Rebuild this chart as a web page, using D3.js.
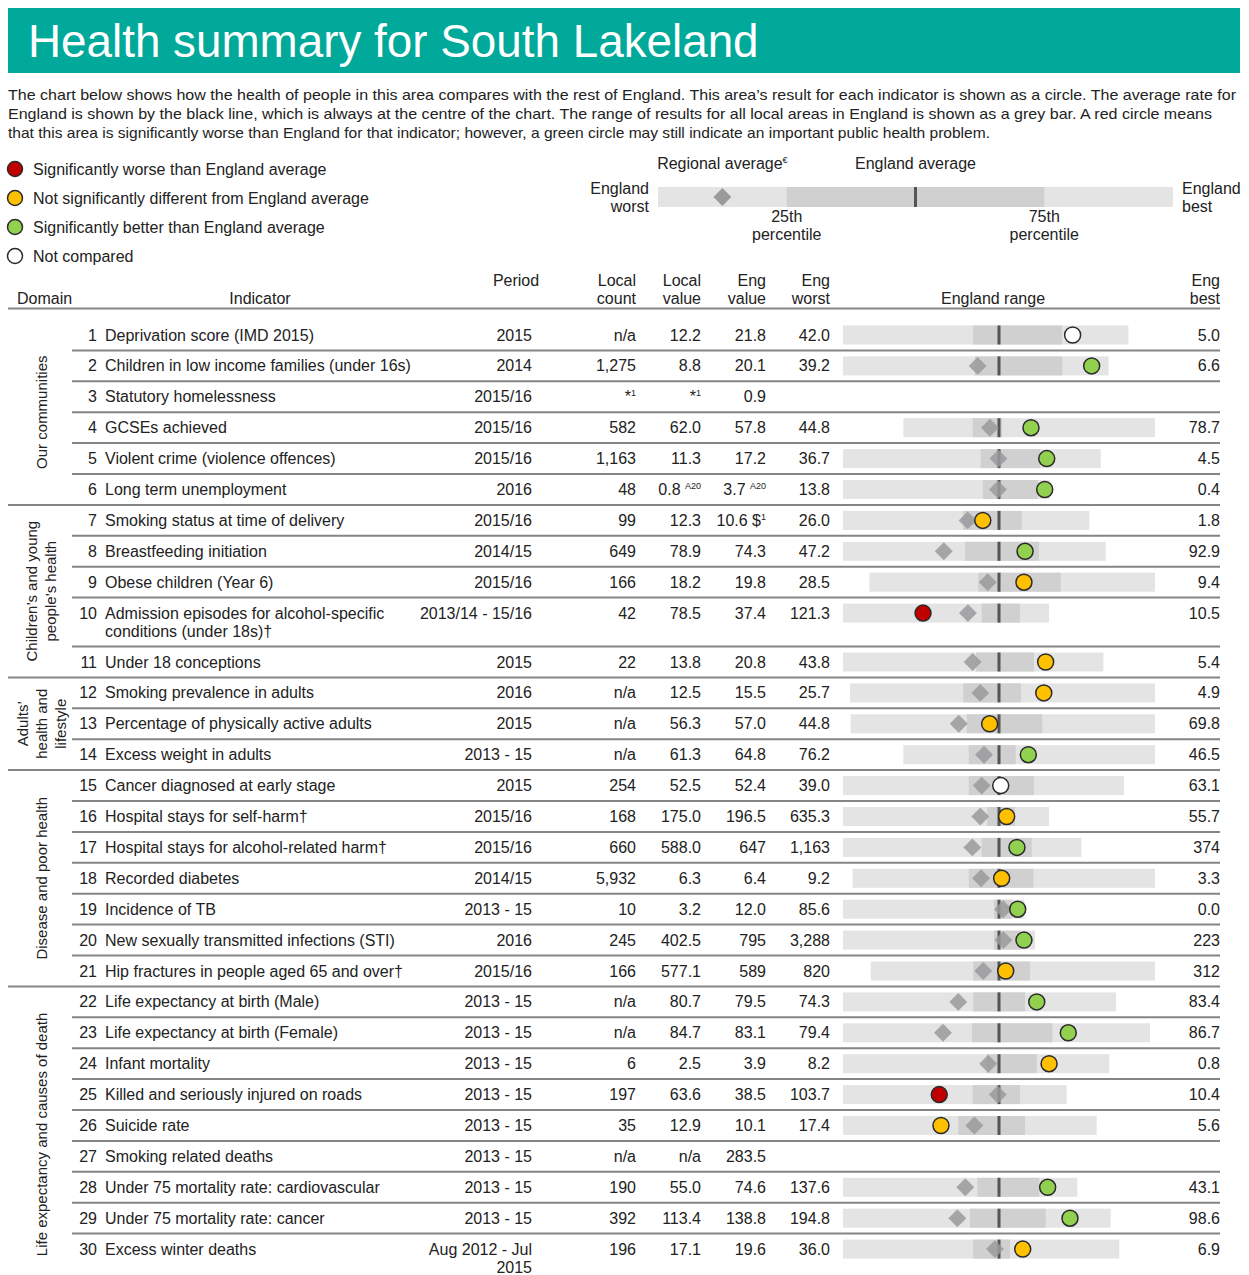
<!DOCTYPE html>
<html>
<head>
<meta charset="utf-8">
<script src="https://cdn.jsdelivr.net/npm/d3@7"></script>
<style>
  body { margin: 0; background: #fff; }
  svg { display: block; }
</style>
</head>
<body>
<svg id="chart" width="1249" height="1275"></svg>
<script>
// ─── Data ────────────────────────────────────────────────────────────────────
const title = 'Health summary for South Lakeland';
const intro = [
  'The chart below shows how the health of people in this area compares with the rest of England. This area\u2019s result for each indicator is shown as a circle. The average rate for',
  'England is shown by the black line, which is always at the centre of the chart. The range of results for all local areas in England is shown as a grey bar. A red circle means',
  'that this area is significantly worse than England for that indicator; however, a green circle may still indicate an important public health problem.'
];
const legendLabels = [
  ['r', 'Significantly worse than England average'],
  ['y', 'Not significantly different from England average'],
  ['g', 'Significantly better than England average'],
  ['w', 'Not compared']
];

const domains = [
  ['Our communities'],
  ['Children\u2019s and young', 'people\u2019s health'],
  ['Adults\u2019', 'health and', 'lifestyle'],
  ['Disease and poor health'],
  ['Life expectancy and causes of death']
];
const domainSizes = [6, 5, 3, 7, 9];

const indicators = [
  ['Deprivation score (IMD 2015)'],
  ['Children in low income families (under 16s)'],
  ['Statutory homelessness'],
  ['GCSEs achieved'],
  ['Violent crime (violence offences)'],
  ['Long term unemployment'],
  ['Smoking status at time of delivery'],
  ['Breastfeeding initiation'],
  ['Obese children (Year 6)'],
  ['Admission episodes for alcohol-specific', 'conditions (under 18s)\u2020'],
  ['Under 18 conceptions'],
  ['Smoking prevalence in adults'],
  ['Percentage of physically active adults'],
  ['Excess weight in adults'],
  ['Cancer diagnosed at early stage'],
  ['Hospital stays for self-harm\u2020'],
  ['Hospital stays for alcohol-related harm\u2020'],
  ['Recorded diabetes'],
  ['Incidence of TB'],
  ['New sexually transmitted infections (STI)'],
  ['Hip fractures in people aged 65 and over\u2020'],
  ['Life expectancy at birth (Male)'],
  ['Life expectancy at birth (Female)'],
  ['Infant mortality'],
  ['Killed and seriously injured on roads'],
  ['Suicide rate'],
  ['Smoking related deaths'],
  ['Under 75 mortality rate: cardiovascular'],
  ['Under 75 mortality rate: cancer'],
  ['Excess winter deaths']
];
const periods = [
  ['2015'], ['2014'], ['2015/16'], ['2015/16'], ['2015/16'], ['2016'],
  ['2015/16'], ['2014/15'], ['2015/16'], ['2013/14 - 15/16'], ['2015'],
  ['2016'], ['2015'], ['2013 - 15'],
  ['2015'], ['2015/16'], ['2015/16'], ['2014/15'], ['2013 - 15'], ['2016'], ['2015/16'],
  ['2013 - 15'], ['2013 - 15'], ['2013 - 15'], ['2013 - 15'], ['2013 - 15'], ['2013 - 15'],
  ['2013 - 15'], ['2013 - 15'], ['Aug 2012 - Jul', '2015']
];
// "^" marks the start of a superscript note
const localCounts = ['n/a', '1,275', '*^1', '582', '1,163', '48', '99', '649', '166', '42', '22',
  'n/a', 'n/a', 'n/a', '254', '168', '660', '5,932', '10', '245', '166',
  'n/a', 'n/a', '6', '197', '35', 'n/a', '190', '392', '196'];
const localValues = ['12.2', '8.8', '*^1', '62.0', '11.3', '0.8 ^A20', '12.3', '78.9', '18.2', '78.5', '13.8',
  '12.5', '56.3', '61.3', '52.5', '175.0', '588.0', '6.3', '3.2', '402.5', '577.1',
  '80.7', '84.7', '2.5', '63.6', '12.9', 'n/a', '55.0', '113.4', '17.1'];
const engValues = ['21.8', '20.1', '0.9', '57.8', '17.2', '3.7 ^A20', '10.6 $^1', '74.3', '19.8', '37.4', '20.8',
  '15.5', '57.0', '64.8', '52.4', '196.5', '647', '6.4', '12.0', '795', '589',
  '79.5', '83.1', '3.9', '38.5', '10.1', '283.5', '74.6', '138.8', '19.6'];
const engWorst = ['42.0', '39.2', '', '44.8', '36.7', '13.8', '26.0', '47.2', '28.5', '121.3', '43.8',
  '25.7', '44.8', '76.2', '39.0', '635.3', '1,163', '9.2', '85.6', '3,288', '820',
  '74.3', '79.4', '8.2', '103.7', '17.4', '', '137.6', '194.8', '36.0'];
const engBest = ['5.0', '6.6', '', '78.7', '4.5', '0.4', '1.8', '92.9', '9.4', '10.5', '5.4',
  '4.9', '69.8', '46.5', '63.1', '55.7', '374', '3.3', '0.0', '223', '312',
  '83.4', '86.7', '0.8', '10.4', '5.6', '', '43.1', '98.6', '6.9'];
// r worse, y not different, g better, w not compared, null none
const status = ['w', 'g', null, 'g', 'g', 'g', 'y', 'g', 'y', 'r', 'y',
  'y', 'y', 'g', 'w', 'y', 'g', 'y', 'g', 'g', 'y',
  'g', 'g', 'y', 'r', 'y', null, 'g', 'g', 'y'];

// Spine positions, England average = 0, widest half = ±100
const spineWorst = [-100, -100, null, -61.3, -100, -100, -100, -100, -83.1, -100, -100,
  -95.5, -95.1, -61.3, -100, -100, -100, -93.8, -100, -100, -82.2,
  -100, -100, -100, -100, -100, null, -100, -100, -100];
const spineQ25 = [-16.7, -15.4, null, -16.9, -11.7, -10.3, -23.1, -21.8, -13.3, -11.1, -14.7,
  -22.9, -20.7, -19.4, -19.4, -7.7, -11.1, -19.4, -3.2, -3.2, -16.5,
  -16.5, -17.3, -7.9, -16.9, -26.1, null, -13.9, -18.6, -16.7];
const spineQ75 = [40.4, 40.6, null, 1.9, 26.3, 25.0, 14.6, 25.6, 39.6, 13.5, 22.4,
  14.1, 27.8, 10.7, 22.4, 10.3, 21.0, 22.0, 8.3, 13.5, 19.9,
  16.7, 34.2, 24.2, 13.5, 16.7, null, 25.8, 29.9, 7.1];
const spineBest = [82.9, 70.3, null, 100, 65.2, 32.7, 57.9, 68.4, 100, 32.1, 66.9,
  100, 100, 100, 80.1, 32.1, 52.8, 100, 16.3, 23.1, 100,
  75.0, 96.8, 70.7, 43.4, 62.6, null, 50.2, 71.6, 77.1];
const spineRegion = [null, -13.7, null, -5.8, -0.4, -0.6, -20.1, -35.4, -7.2, -19.9, -16.9,
  -12.0, -25.8, -9.6, -11.1, -12.0, -17.1, -11.5, 2.6, 2.8, -10.1,
  -26.1, -35.9, -6.9, -0.8, -15.8, null, -21.6, -26.7, -2.6];
const spineLocal = [47.2, 59.4, null, 20.5, 30.6, 29.3, -10.4, 16.7, 16.0, -48.7, 29.9,
  28.7, -6.0, 18.8, 1.1, 4.9, 11.5, 1.7, 12.0, 16.0, 4.3,
  24.2, 44.4, 32.1, -38.3, -37.2, null, 31.2, 45.5, 15.2];

// Key diagram, same units
const keyWorst = -100, keyQ25 = -50, keyQ75 = 50, keyBest = 100, keyRegion = -75;

// ─── Style ───────────────────────────────────────────────────────────────────
const C = {
  teal: '#00a99a',
  text: '#222222',
  rule: '#858585',
  light: '#e4e4e4',
  dark: '#d0d0d0',
  avg: '#555555',
  diamond: '#9a9a9c',
  ring: '#2a2a2a',
  font: '"Liberation Sans", Arial, Helvetica, sans-serif'
};
const FILL = { r: '#c00000', y: '#ffc000', g: '#92d050', w: '#ffffff' };
const FS = 16;

const svg = d3.select('#chart');
const txt = (sel, x, y, s, anchor) => sel.append('text')
  .attr('x', x).attr('y', y).attr('font-family', C.font).attr('font-size', FS)
  .attr('fill', C.text).attr('text-anchor', anchor || 'start').text(s);

// rich text with a superscript after "^"
function richText(sel, x, y, s, anchor) {
  const t = sel.append('text').attr('x', x).attr('y', y)
    .attr('font-family', C.font).attr('font-size', FS).attr('fill', C.text)
    .attr('text-anchor', anchor || 'end');
  const parts = String(s).split('^');
  t.append('tspan').text(parts[0]);
  if (parts.length > 1) t.append('tspan').attr('font-size', 9).attr('dy', -6).text(parts[1]);
  return t;
}

// ─── Title band ──────────────────────────────────────────────────────────────
svg.append('rect').attr('x', 8).attr('y', 8).attr('width', 1232).attr('height', 65).attr('fill', C.teal);
svg.append('text').attr('x', 28).attr('y', 57).attr('fill', '#fff')
  .attr('font-family', C.font).attr('font-size', 45.8).text(title);

const introEnds = [1236, 1212, 990];
intro.forEach((line, i) => {
  txt(svg, 8, 100 + i * 19, line).attr('font-size', 15)
    .attr('textLength', introEnds[i] - 8).attr('lengthAdjust', 'spacingAndGlyphs');
});

// ─── Legend ──────────────────────────────────────────────────────────────────
legendLabels.forEach(([k, label], i) => {
  const cy = 169 + i * 29;
  svg.append('circle').attr('cx', 15).attr('cy', cy).attr('r', 7.5)
    .attr('fill', FILL[k]).attr('stroke', C.ring).attr('stroke-width', 1.5);
  txt(svg, 33, cy + 5.5, label);
});

// ─── Key diagram ─────────────────────────────────────────────────────────────
const kx = d3.scaleLinear().domain([-100, 100]).range([658, 1173]);
const keyY = 197;
const key = svg.append('g');
key.append('rect').attr('x', kx(keyWorst)).attr('y', keyY - 10)
  .attr('width', kx(keyBest) - kx(keyWorst)).attr('height', 20).attr('fill', C.light);
key.append('rect').attr('x', kx(keyQ25)).attr('y', keyY - 10)
  .attr('width', kx(keyQ75) - kx(keyQ25)).attr('height', 20).attr('fill', C.dark);
key.append('line').attr('x1', kx(0)).attr('x2', kx(0)).attr('y1', keyY - 10).attr('y2', keyY + 10)
  .attr('stroke', C.avg).attr('stroke-width', 3);
key.append('path').attr('d', d3.symbol(d3.symbolSquare, 160)())
  .attr('transform', `translate(${kx(keyRegion)},${keyY}) rotate(45)`).attr('fill', C.diamond);

const ra = txt(key, kx(keyRegion), 169, 'Regional average', 'middle');
ra.append('tspan').attr('font-size', 9).attr('dy', -6).text('\u20ac');
txt(key, kx(0), 169, 'England average', 'middle');
txt(key, 649, 194, 'England', 'end');
txt(key, 649, 212, 'worst', 'end');
txt(key, 1182, 194, 'England', 'start');
txt(key, 1182, 212, 'best', 'start');
txt(key, kx(keyQ25), 222, '25th', 'middle');
txt(key, kx(keyQ25), 240, 'percentile', 'middle');
txt(key, kx(keyQ75), 222, '75th', 'middle');
txt(key, kx(keyQ75), 240, 'percentile', 'middle');

// ─── Table header ────────────────────────────────────────────────────────────
const col = { num: 97, name: 105, period: 532, count: 636, value: 701, engVal: 766, worst: 830, best: 1220 };
const head = svg.append('g');
txt(head, 17, 304, 'Domain');
txt(head, 260, 304, 'Indicator', 'middle');
txt(head, 516, 286, 'Period', 'middle');
txt(head, col.count, 286, 'Local', 'end');  txt(head, col.count, 304, 'count', 'end');
txt(head, col.value, 286, 'Local', 'end');  txt(head, col.value, 304, 'value', 'end');
txt(head, col.engVal, 286, 'Eng', 'end');   txt(head, col.engVal, 304, 'value', 'end');
txt(head, col.worst, 286, 'Eng', 'end');    txt(head, col.worst, 304, 'worst', 'end');
txt(head, 993, 304, 'England range', 'middle');
txt(head, col.best, 286, 'Eng', 'end');     txt(head, col.best, 304, 'best', 'end');
svg.append('line').attr('x1', 8).attr('x2', 1220).attr('y1', 308.5).attr('y2', 308.5)
  .attr('stroke', C.rule).attr('stroke-width', 2);

// ─── Rows ────────────────────────────────────────────────────────────────────
const ROW_H = 30.9, LINE_H = 18, TOP0 = 319.5;
const rowTop = [];
let yy = TOP0;
indicators.forEach((name, i) => {
  rowTop.push(yy);
  const lines = Math.max(name.length, periods[i].length);
  yy += ROW_H + (lines - 1) * LINE_H;
});
const tableBottom = yy;

const sx = d3.scaleLinear().domain([-100, 100]).range([843, 1155]);

// domain starts
const domainStart = [];
domainSizes.reduce((acc, n) => { domainStart.push(acc); return acc + n; }, 0);

const rowsG = svg.append('g');
indicators.forEach((name, i) => {
  const top = rowTop[i];
  const cy = top + 15.5;
  const base = cy + 5.5;

  // separator above row
  if (i > 0) {
    const full = domainStart.includes(i);
    rowsG.append('line').attr('x1', full ? 8 : 72).attr('x2', 1220)
      .attr('y1', top).attr('y2', top).attr('stroke', C.rule).attr('stroke-width', 2);
  }

  txt(rowsG, col.num, base, String(i + 1), 'end');
  name.forEach((l, j) => txt(rowsG, col.name, base + j * LINE_H, l));
  periods[i].forEach((l, j) => txt(rowsG, col.period, base + j * LINE_H, l, 'end'));
  richText(rowsG, col.count, base, localCounts[i]);
  richText(rowsG, col.value, base, localValues[i]);
  richText(rowsG, col.engVal, base, engValues[i]);
  richText(rowsG, col.worst, base, engWorst[i]);
  richText(rowsG, col.best, base, engBest[i]);

  if (spineWorst[i] == null) return;
  const g = rowsG.append('g');
  g.append('rect').attr('x', sx(spineWorst[i])).attr('y', cy - 9.5)
    .attr('width', sx(spineBest[i]) - sx(spineWorst[i])).attr('height', 19).attr('fill', C.light);
  g.append('rect').attr('x', sx(spineQ25[i])).attr('y', cy - 9.5)
    .attr('width', sx(spineQ75[i]) - sx(spineQ25[i])).attr('height', 19).attr('fill', C.dark);
  g.append('line').attr('x1', sx(0)).attr('x2', sx(0)).attr('y1', cy - 9.5).attr('y2', cy + 9.5)
    .attr('stroke', C.avg).attr('stroke-width', 3);
  if (spineRegion[i] != null) {
    g.append('path').attr('d', d3.symbol(d3.symbolSquare, 160)())
      .attr('transform', `translate(${sx(spineRegion[i])},${cy}) rotate(45)`)
      .attr('fill', C.diamond).attr('opacity', 0.85);
  }
  if (status[i]) {
    g.append('circle').attr('cx', sx(spineLocal[i])).attr('cy', cy).attr('r', 8)
      .attr('fill', FILL[status[i]]).attr('stroke', C.ring).attr('stroke-width', 1.5);
  }
});

// ─── Domain labels (rotated) ─────────────────────────────────────────────────
domains.forEach((lines, d) => {
  const first = domainStart[d];
  const last = first + domainSizes[d];
  const y0 = rowTop[first];
  const y1 = last < rowTop.length ? rowTop[last] : tableBottom;
  const mid = (y0 + y1) / 2;
  const n = lines.length;
  lines.forEach((l, j) => {
    const x = 41 + (j - (n - 1) / 2) * 19;
    svg.append('text')
      .attr('transform', `translate(${x},${mid}) rotate(-90)`)
      .attr('text-anchor', 'middle').attr('dominant-baseline', 'central')
      .attr('font-family', C.font).attr('font-size', 15).attr('fill', C.text)
      .text(l);
  });
});
</script>
</body>
</html>
